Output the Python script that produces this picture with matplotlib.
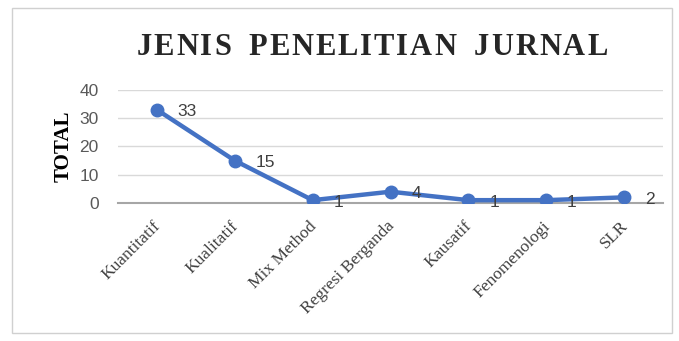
import matplotlib
matplotlib.use("Agg")
import matplotlib.pyplot as plt
import matplotlib.transforms as mtransforms
from matplotlib.patches import Rectangle

# jenis penelitian per jurnal
jenis = ["Kuantitatif", "Kualitatif", "Mix Method", "Regresi Berganda",
         "Kausatif", "Fenomenologi", "SLR"]
total = [33, 15, 1, 4, 1, 1, 2]
yticks = [0, 10, 20, 30, 40]
judul = "JENIS PENELITIAN JURNAL"

fig = plt.figure(figsize=(6.79, 3.41), dpi=100)
fig.patch.set_facecolor("white")

# chart border
fig.patches.append(Rectangle((12 / 679, 8 / 341), 660 / 679, 325 / 341,
                             transform=fig.transFigure, fill=False,
                             edgecolor="#D0D0D0", lw=1.0))

ax = fig.add_axes([0.1738, 0.4047, 0.8027, 0.3314])
x = list(range(len(jenis)))
ax.plot(x, total, color="#4472C4", lw=3.2, marker="o", ms=9, zorder=3)

for xi, v in zip(x, total):
    ax.annotate(str(v), (xi, v), xytext=(15, -1.5), textcoords="offset points",
                ha="left", va="center", fontsize=12.5, color="#404040",
                family="Liberation Sans")

ax.set_xlim(-0.5, len(jenis) - 0.5)
ax.set_ylim(0, 40)
ax.set_yticks(yticks)
ax.set_yticklabels([str(t) for t in yticks], family="Liberation Sans",
                   fontsize=12.5, color="#595959")
ax.set_xticks(x)
ax.set_xticklabels(jenis, rotation=45, ha="right", va="center",
                   rotation_mode="anchor", family="Liberation Serif",
                   fontsize=12.5, color="#404040")
ax.tick_params(axis="x", length=0, pad=15)
ax.tick_params(axis="y", length=0, pad=14)
# nudge the slanted labels a little to the right
shift = mtransforms.ScaledTranslation(1 / 72, 0, fig.dpi_scale_trans)
for lbl in ax.get_xticklabels():
    lbl.set_transform(lbl.get_transform() + shift)

ax.grid(axis="y", color="#D9D9D9", lw=1)
ax.set_axisbelow(True)
for s in ["top", "right", "left"]:
    ax.spines[s].set_visible(False)
ax.spines["bottom"].set_color("#A6A6A6")
ax.spines["bottom"].set_linewidth(1.5)

ax.set_ylabel("TOTAL", family="Liberation Serif", fontweight="bold",
              fontsize=15, labelpad=4)

# title: glyphs set one by one, even letter spacing plus a bit more per word gap
renderer = fig.canvas.get_renderer()
tstyle = dict(family="Liberation Serif", fontweight="bold", fontsize=22,
              color="#262626", va="center", ha="left")


def text_width(s):
    t = fig.text(0, 0, s, **tstyle)
    w = t.get_window_extent(renderer).width
    t.remove()
    return w


target = 471
word_extra = 6
natural = text_width(judul)
n_gap = judul.count(" ")
track = (target - natural - n_gap * word_extra) / (len(judul) - 1)
x0 = 372 - target / 2
for i, ch in enumerate(judul):
    px = x0 + (text_width(judul[:i]) if i else 0) + i * track \
        + judul[:i].count(" ") * word_extra
    if ch != " ":
        fig.text(px / 679, 0.862, ch, **tstyle)

fig.savefig("out.png", dpi=100)
